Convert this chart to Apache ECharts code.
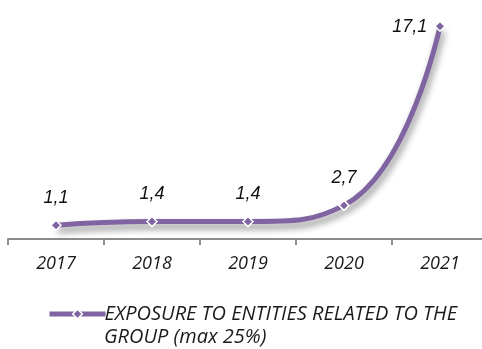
<!DOCTYPE html>
<html>
<head>
<meta charset="utf-8">
<script src="https://cdn.jsdelivr.net/npm/echarts@6/dist/echarts.min.js"></script>
<style>
  html, body { margin: 0; padding: 0; background: #ffffff; }
  #chart { width: 482px; height: 349px; }
</style>
</head>
<body>
<div id="chart"></div>
<script>
// Exposure to entities related to the group, by year (%)
const years = ['2017', '2018', '2019', '2020', '2021'];
const exposure = [1.1, 1.4, 1.4, 2.7, 17.1];
const seriesName = 'EXPOSURE TO ENTITIES RELATED TO THE';
const seriesNameCont = 'GROUP (max 25%)';

const purple = '#8064A2';

// The last point carries its label on the left side
const points = exposure.map((v, i) => {
  const p = { value: v };
  if (i === exposure.length - 1) {
    p.label = { position: 'left', distance: 8, offset: [1, 1] };
  }
  return p;
});

const chart = echarts.init(document.getElementById('chart'), null, { renderer: 'canvas' });
chart.setOption({
  animation: false,
  backgroundColor: '#ffffff',
  grid: { left: 8, width: 480, top: 15, bottom: 110, outerBoundsMode: 'none' },
  xAxis: {
    type: 'category',
    data: years,
    boundaryGap: true,
    axisLine: { show: true, lineStyle: { color: '#8c8c8c', width: 2 } },
    axisTick: { show: true, length: 6, lineStyle: { color: '#8c8c8c', width: 2 } },
    axisLabel: {
      margin: 16,
      color: '#1a1a1a',
      fontFamily: 'Open Sans',
      fontStyle: 'italic',
      fontSize: 18
    },
    splitLine: { show: false }
  },
  yAxis: {
    type: 'value',
    min: 0,
    max: 18,
    show: false,
    splitLine: { show: false }
  },
  legend: {
    left: 42,
    top: 299,
    itemWidth: 56,
    itemHeight: 12,
    itemGap: 10,
    formatter: () => seriesName,
    lineStyle: { width: 5, color: purple },
    itemStyle: { color: purple, borderColor: '#ffffff', borderWidth: 1.5 },
    textStyle: {
      color: '#1a1a1a',
      fontFamily: 'Open Sans',
      fontStyle: 'italic',
      fontSize: 20,
      padding: [0, 0, 0, -6]
    }
  },
  graphic: [{
    type: 'text',
    left: 104,
    top: 327,
    style: {
      text: seriesNameCont,
      fill: '#1a1a1a',
      font: 'italic 20px "Open Sans"'
    }
  }],
  series: [{
    name: seriesName,
    type: 'line',
    data: points,
    smooth: 0.5,
    symbol: 'diamond',
    symbolSize: 10,
    itemStyle: { color: purple, borderColor: '#ffffff', borderWidth: 1.5 },
    lineStyle: {
      color: purple,
      width: 5,
      shadowColor: 'rgba(0,0,0,0.45)',
      shadowBlur: 7,
      shadowOffsetX: 2,
      shadowOffsetY: 5
    },
    label: {
      show: true,
      position: 'top',
      distance: 13,
      formatter: p => String(p.value).replace('.', ','),
      color: '#111111',
      fontFamily: 'Liberation Sans',
      fontStyle: 'italic',
      fontSize: 18
    }
  }]
});
</script>
</body>
</html>
